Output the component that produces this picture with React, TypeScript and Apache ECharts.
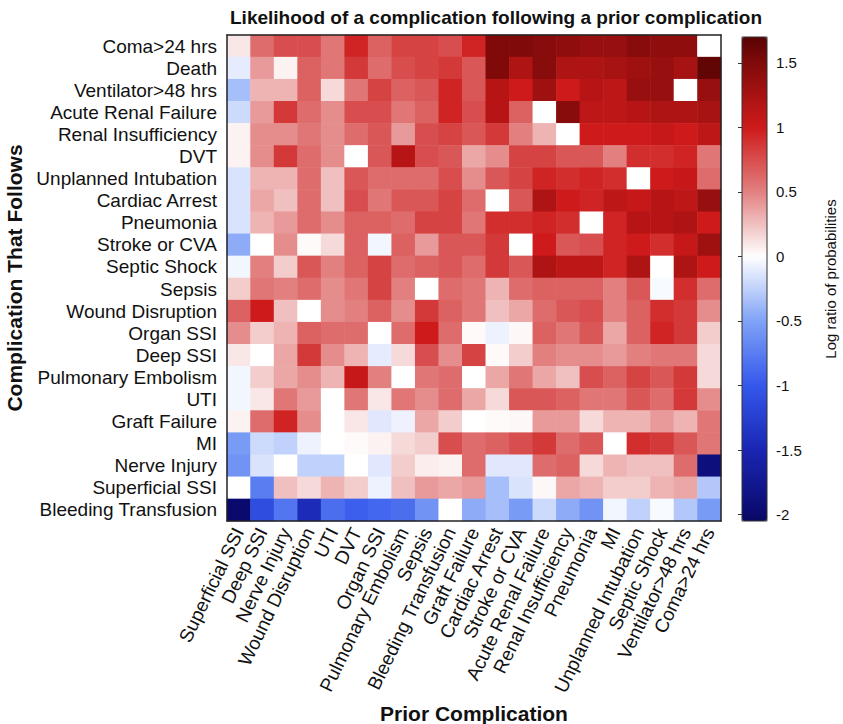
import React, { useEffect, useRef } from "react";
import * as echarts from "echarts";

const priorCats = [
  "Superficial SSI", "Deep SSI", "Nerve Injury", "Wound Disruption", "UTI", "DVT",
  "Organ SSI", "Pulmonary Embolism", "Sepsis", "Bleeding Transfusion", "Graft Failure",
  "Cardiac Arrest", "Stroke or CVA", "Acute Renal Failure", "Renal Insufficiency",
  "Pneumonia", "MI", "Unplanned Intubation", "Septic Shock", "Ventilator>48 hrs", "Coma>24 hrs",
];

const followCats = [
  "Coma>24 hrs", "Death", "Ventilator>48 hrs", "Acute Renal Failure", "Renal Insufficiency",
  "DVT", "Unplanned Intubation", "Cardiac Arrest", "Pneumonia", "Stroke or CVA", "Septic Shock",
  "Sepsis", "Wound Disruption", "Organ SSI", "Deep SSI", "Pulmonary Embolism", "UTI",
  "Graft Failure", "MI", "Nerve Injury", "Superficial SSI", "Bleeding Transfusion",
];

// one row per "complication that follows", columns follow priorCats
const rowComa = [0.1, 0.6, 0.75, 0.75, 0.55, 0.95, 0.65, 0.8, 0.8, 0.75, 0.95, 1.5, 1.5, 1.45, 1.4, 1.35, 1.35, 1.45, 1.4, 1.4, 0];
const rowDeath = [-0.1, 0.4, 0.05, 0.65, 0.55, 0.85, 0.6, 0.75, 0.8, 0.85, 0.7, 1.5, 1.2, 1.45, 1.2, 1.2, 1.25, 1.3, 1.35, 1.25, 1.65];
const rowVent = [-0.35, 0.3, 0.3, 0.65, 0.15, 0.55, 0.8, 0.65, 0.7, 0.95, 0.7, 1.15, 1.0, 1.3, 1.0, 1.15, 1.1, 1.35, 1.35, 0, 1.35];
const rowARF = [-0.2, 0.4, 0.85, 0.6, 0.45, 0.75, 0.75, 0.55, 0.65, 0.95, 0.75, 1.15, 0.65, 0, 1.45, 1.1, 1.1, 1.15, 1.2, 1.2, 1.25];
const rowRenalIns = [0.05, 0.45, 0.45, 0.55, 0.45, 0.6, 0.7, 0.4, 0.75, 0.8, 0.7, 0.85, 0.5, 0.3, 0, 1.0, 1.0, 1.0, 1.05, 1.0, 1.1];
const rowDVT = [0.05, 0.45, 0.85, 0.6, 0.45, 0, 0.7, 1.15, 0.75, 0.7, 0.35, 0.45, 0.8, 0.8, 0.7, 0.7, 0.5, 0.9, 0.9, 0.95, 0.55];
const rowIntub = [-0.15, 0.3, 0.3, 0.6, 0.25, 0.7, 0.6, 0.6, 0.6, 0.75, 0.45, 0.7, 0.8, 0.95, 0.9, 0.95, 0.9, 0, 1.0, 1.05, 0.6];
const rowCardiac = [-0.15, 0.35, 0.25, 0.6, 0.25, 0.75, 0.55, 0.7, 0.7, 0.8, 0.6, 0, 0.7, 1.2, 1.0, 0.95, 1.1, 1.05, 1.15, 1.1, 1.35];
const rowPneu = [-0.15, 0.3, 0.4, 0.6, 0.45, 0.65, 0.65, 0.6, 0.8, 0.8, 0.55, 0.9, 0.9, 0.95, 0.9, 0, 0.95, 1.15, 1.15, 1.2, 1.0];
const rowStroke = [-0.45, 0, 0.45, 0.02, 0.15, 0.65, -0.05, 0.65, 0.4, 0.7, 0.7, 0.85, 0, 1.0, 0.7, 0.75, 0.95, 1.0, 0.9, 1.05, 1.3];
const rowSeptic = [-0.05, 0.5, 0.2, 0.7, 0.5, 0.65, 0.8, 0.6, 0.65, 0.7, 0.6, 0.85, 0.7, 1.2, 1.1, 1.1, 0.95, 1.2, 0, 1.2, 1.0];
const rowSepsis = [0.2, 0.55, 0.5, 0.6, 0.45, 0.55, 0.8, 0.5, 0, 0.6, 0.55, 0.3, 0.6, 0.65, 0.65, 0.65, 0.5, 0.7, -0.03, 0.9, 0.6];
const rowWound = [0.65, 1.0, 0.25, 0, 0.45, 0.5, 0.65, 0.45, 0.85, 0.65, 0.55, 0.25, 0.35, 0.6, 0.7, 0.75, 0.5, 0.65, 0.9, 0.85, 0.45];
const rowOrgan = [0.45, 0.2, 0.3, 0.65, 0.6, 0.6, 0, 0.6, 1.0, 0.6, 0.02, -0.07, 0.03, 0.65, 0.55, 0.7, 0.35, 0.65, 0.95, 0.85, 0.2];
const rowDeep = [0.1, 0, 0.35, 0.85, 0.45, 0.3, -0.1, 0.15, 0.75, 0.45, 0.8, 0.02, 0.2, 0.5, 0.45, 0.45, 0.4, 0.5, 0.55, 0.55, 0.15];
const rowPE = [-0.05, 0.2, 0.35, 0.45, 0.3, 1.05, 0.5, 0, 0.55, 0.6, 0, 0.35, 0.55, 0.35, 0.25, 0.75, 0.65, 0.8, 0.7, 0.85, 0.15];
const rowUTI = [-0.05, 0.1, 0.55, 0.4, 0, 0.55, 0.1, 0.55, 0.45, 0.6, 0.35, 0.15, 0.7, 0.7, 0.65, 0.55, 0.55, 0.7, 0.6, 0.85, 0.45];
const rowGraft = [0.05, 0.6, 0.95, 0.45, 0, 0.1, -0.12, -0.07, 0.35, 0.2, 0, 0.02, 0.03, 0.4, 0.4, 0.15, 0.3, 0.3, 0.4, 0.3, 0.55];
const rowMI = [-0.55, -0.2, -0.25, -0.07, 0, 0.02, 0.05, 0.15, 0.2, 0.75, 0.6, 0.65, 0.75, 0.85, 0.6, 0.7, 0, 0.9, 0.85, 0.7, 0.55];
const rowNerve = [-0.6, -0.15, 0, -0.25, -0.25, 0, -0.12, 0.2, 0.07, 0.05, 0.6, -0.12, -0.12, 0.6, 0.65, 0.15, 0.3, 0.25, 0.25, 0.6, -1.9];
const rowSuperficial = [0, -0.75, 0.25, 0.15, 0.3, 0.2, -0.07, 0.25, 0.4, 0.35, 0.4, -0.35, -0.15, 0.03, 0.35, 0.3, 0.2, 0.2, 0.3, 0.35, -0.3];
const rowBleeding = [-2.0, -1.1, -0.8, -1.45, -0.85, -0.95, -0.9, -0.85, -0.6, 0, -0.45, -0.35, -0.55, -0.2, -0.45, -0.6, -0.05, -0.25, -0.03, -0.3, -0.55];

const values = [
  rowComa, rowDeath, rowVent, rowARF, rowRenalIns, rowDVT, rowIntub, rowCardiac, rowPneu,
  rowStroke, rowSeptic, rowSepsis, rowWound, rowOrgan, rowDeep, rowPE, rowUTI, rowGraft,
  rowMI, rowNerve, rowSuperficial, rowBleeding,
];

const colorbarTicks = [-2, -1.5, -1, -0.5, 0, 0.5, 1, 1.5];
const cMin = -2.05;
const cMax = 1.7;

// colormap anchors (value -> rgb)
const anchors: [number, number[]][] = [
  [-2.05, [8, 8, 95]],
  [-2.0, [10, 10, 110]],
  [-1.5, [25, 38, 178]],
  [-1.0, [52, 88, 236]],
  [-0.5, [128, 162, 246]],
  [0, [255, 255, 255]],
  [0.5, [226, 128, 128]],
  [1.0, [206, 26, 26]],
  [1.5, [128, 10, 10]],
  [1.7, [88, 4, 4]],
];

function colorAt(v: number) {
  for (let i = 0; i < anchors.length - 1; i++) {
    const [a, ca] = anchors[i];
    const [b, cb] = anchors[i + 1];
    if (v >= a - 1e-9 && v <= b + 1e-9) {
      const t = (v - a) / (b - a);
      const c = ca.map((x, k) => Math.round(x + (cb[k] - x) * t));
      return `rgb(${c[0]},${c[1]},${c[2]})`;
    }
  }
  return "#fff";
}

const stops: string[] = [];
for (let i = 0; i <= 75; i++) stops.push(colorAt(cMin + i * 0.05));

export default function App() {
  const ref = useRef<HTMLDivElement>(null);
  useEffect(() => {
    if (!ref.current) return;
    const chart = echarts.init(ref.current, undefined, { renderer: "svg" });
    const data: number[][] = [];
    values.forEach((row, r) => row.forEach((v, c) => data.push([c, r, v])));
    const font = "'Liberation Sans', Arial, Helvetica, sans-serif";
    chart.setOption({
      animation: false,
      backgroundColor: "#fff",
      textStyle: { fontFamily: font },
      title: {
        text: "Likelihood of a complication following a prior complication",
        left: 230,
        top: 8,
        padding: 0,
        textStyle: { fontSize: 19, fontWeight: "bold", color: "#111", fontFamily: font },
      },
      grid: [
        { left: 227, top: 35, width: 494, height: 486, containLabel: false, outerBoundsMode: "none" },
        {
          left: 742, top: 37, width: 25, height: 484, show: true, z: 10, outerBoundsMode: "none",
          borderColor: "#333", borderWidth: 1, backgroundColor: "transparent",
        },
      ],
      xAxis: [
        {
          type: "category", data: priorCats, gridIndex: 0, position: "bottom", z: 10,
          axisLine: { lineStyle: { color: "#222", width: 1.5 } },
          axisTick: { inside: true, alignWithLabel: true, length: 5, lineStyle: { color: "#222" } },
          axisLabel: { rotate: 64, fontSize: 19, color: "#111", margin: 8, interval: 0 },
          splitLine: { show: false },
          name: "Prior Complication", nameLocation: "middle", nameGap: 174,
          nameTextStyle: { fontSize: 21, fontWeight: "bold", color: "#111" },
        },
        {
          type: "category", data: priorCats, gridIndex: 0, position: "top", z: 10,
          axisLine: { lineStyle: { color: "#222", width: 1.5 } },
          axisTick: { inside: true, alignWithLabel: true, length: 5, lineStyle: { color: "#222" } },
          axisLabel: { show: false },
        },
        { type: "value", gridIndex: 1, show: false, min: 0, max: 1 },
      ],
      yAxis: [
        {
          type: "category", data: followCats, gridIndex: 0, inverse: true, position: "left", z: 10,
          axisLine: { lineStyle: { color: "#222", width: 1.5 } },
          axisTick: { inside: true, alignWithLabel: true, length: 5, lineStyle: { color: "#222" } },
          axisLabel: { fontSize: 19, color: "#111", margin: 10, interval: 0 },
          name: "Complication That Follows", nameLocation: "middle", nameGap: 198, nameRotate: 90,
          nameTextStyle: { fontSize: 21, fontWeight: "bold", color: "#111" },
        },
        {
          type: "category", data: followCats, gridIndex: 0, inverse: true, position: "right", z: 10,
          axisLine: { lineStyle: { color: "#222", width: 1.5 } },
          axisTick: { inside: true, alignWithLabel: true, length: 5, lineStyle: { color: "#222" } },
          axisLabel: { show: false },
        },
        {
          type: "value", gridIndex: 1, min: cMin, max: cMax, position: "right", z: 11,
          axisLine: { show: false },
          axisTick: { show: true, inside: true, length: 4, customValues: colorbarTicks, lineStyle: { color: "#333" } },
          axisLabel: { customValues: colorbarTicks, fontSize: 15, color: "#111", margin: 9,
            formatter: (v: number) => String(v) },
          splitLine: { show: false },
          name: "Log ratio of probabilities", nameLocation: "middle", nameGap: 56, nameRotate: 90,
          nameTextStyle: { fontSize: 15, color: "#111" },
        },
      ],
      visualMap: {
        type: "continuous",
        min: cMin,
        max: cMax,
        seriesIndex: 0,
        calculable: false,
        orient: "vertical",
        left: 742,
        top: 37,
        itemWidth: 25,
        itemHeight: 484,
        padding: 0,
        text: ["", ""],
        showLabel: false,
        hoverLink: false,
        inRange: { color: stops },
      },
      series: [
        {
          type: "heatmap",
          xAxisIndex: 0,
          yAxisIndex: 0,
          data,
          progressive: 0,
          emphasis: { disabled: true },
          itemStyle: { borderWidth: 0 },
        },
      ],
    });
    return () => chart.dispose();
  }, []);
  return (
    <div
      ref={ref}
      style={{ position: "fixed", left: 0, top: 0, width: 843, height: 724, background: "#fff" }}
    />
  );
}
